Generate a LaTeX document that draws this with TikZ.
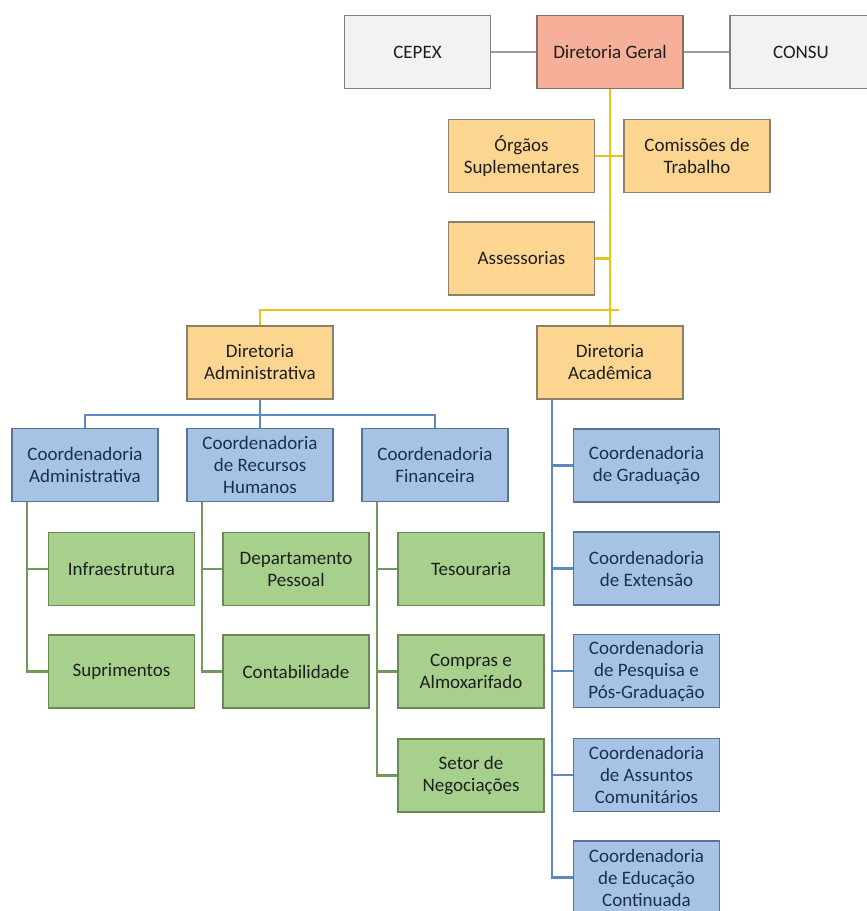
\documentclass[tikz,border=0pt]{standalone}
\usepackage{fontspec}
\setmainfont{Carlito}
\usetikzlibrary{positioning}
\definecolor{fillgray}{HTML}{F2F2F2}
\definecolor{edgegray}{HTML}{7F7F7F}
\definecolor{fillred}{HTML}{F6B09A}
\definecolor{edgered}{HTML}{8A7062}
\definecolor{fillorange}{HTML}{FCD591}
\definecolor{edgeorange}{HTML}{8D8068}
\definecolor{fillblue}{HTML}{A6C3E6}
\definecolor{edgeblue}{HTML}{5A7394}
\definecolor{fillgreen}{HTML}{A8D08D}
\definecolor{edgegreen}{HTML}{6A8A55}
\definecolor{linegray}{HTML}{9A9A9A}
\definecolor{lineyellow}{HTML}{E6C420}
\definecolor{lineblue}{HTML}{5B8BBE}
\definecolor{linegreen}{HTML}{72995A}
\definecolor{textdark}{HTML}{1E1E1E}
\definecolor{textblue}{HTML}{1C2F4F}

\begin{document}
\begin{tikzpicture}[x=1pt,y=-1pt]
 \tikzset{box/.style={minimum width=146pt,minimum height=73pt,inner sep=2pt,line width=1.4pt,align=center,text=textdark,font=\fontsize{19}{22}\selectfont},
  graybox/.style={box,draw=edgegray,fill=fillgray},
  redbox/.style={box,draw=edgered,fill=fillred},
  orangebox/.style={box,draw=edgeorange,fill=fillorange},
  bluebox/.style={box,draw=edgeblue,fill=fillblue,text=textblue},
  greenbox/.style={box,draw=edgegreen,fill=fillgreen},
  grayline/.style={draw=linegray,line width=2.2pt},
  yellowline/.style={draw=lineyellow,line width=2.8pt},
  blueline/.style={draw=lineblue,line width=2.6pt},
  greenline/.style={draw=linegreen,line width=2.4pt}}
 \useasboundingbox[fill=white] (0,0) rectangle (867,911);

 \node[graybox] (CEPEX) at (417.5,52) {CEPEX};
 \node[redbox] (DG) at (610,52) {Diretoria Geral};
 \node[graybox,minimum width=142pt] (CONSU) at (801,52) {CONSU};

 \node[orangebox] (OS) at (521.5,156) {Órgãos\\Suplementares};
 \node[orangebox] (CT) at (697,156) {Comissões de\\Trabalho};
 \node[orangebox] (AS) at (521.5,258.5) {Assessorias};

 \node[orangebox] (DAd) at (260,362.5) {Diretoria\\Administrativa};
 \node[orangebox] (DAc) at (610,362.5) {Diretoria\\Acadêmica};

 \node[bluebox] (CA) at (85,465) {Coordenadoria\\Administrativa};
 \node[bluebox] (CR) at (260,465) {Coordenadoria\\de Recursos\\Humanos};
 \node[bluebox] (CF) at (435,465) {Coordenadoria\\Financeira};

 \node[greenbox] (IN) at (121.5,569) {Infraestrutura};
 \node[greenbox] (SU) at (121.5,671.5) {Suprimentos};
 \node[greenbox] (DP) at (296,569) {Departamento\\Pessoal};
 \node[greenbox] (CO) at (296,671.5) {Contabilidade};
 \node[greenbox] (TE) at (471,569) {Tesouraria};
 \node[greenbox] (CM) at (471,671.5) {Compras e\\Almoxarifado};
 \node[greenbox] (SN) at (471,775.5) {Setor de\\Negociações};

 \node[bluebox] (GR) at (646.5,465.5) {Coordenadoria\\de Graduação};
 \node[bluebox] (EX) at (646.5,568.5) {Coordenadoria\\de Extensão};
 \node[bluebox] (PQ) at (646.5,671) {Coordenadoria\\de Pesquisa e\\Pós-Graduação};
 \node[bluebox] (AC) at (646.5,775) {Coordenadoria\\de Assuntos\\Comunitários};
 \node[bluebox] (ED) at (646.5,877.5) {Coordenadoria\\de Educação\\Continuada};

 \coordinate (yj) at (619,310);
 \coordinate (bj) at (260,415);
 \coordinate (ga) at (27,502);
 \coordinate (gr) at (202,502);
 \coordinate (gf) at (377,502);
 \coordinate (ba) at (552,399);

 \draw[grayline] (CEPEX) -- (DG);
 \draw[grayline] (DG) -- (CONSU);

 \draw[yellowline] (DG) -- (DAc);
 \draw[yellowline] (OS) -- (CT);
 \draw[yellowline] (AS.east) -- (AS.east -| DG.south);
 \draw[yellowline] (DAd.north) |- (yj);

 \draw[blueline] (DAd) -- (CR);
 \draw[blueline] (CA.north) |- (bj) -| (CF.north);
 \draw[blueline] (ba) |- (GR.west);
 \draw[blueline] (ba) |- (EX.west);
 \draw[blueline] (ba) |- (PQ.west);
 \draw[blueline] (ba) |- (AC.west);
 \draw[blueline] (ba) |- (ED.west);

 \draw[greenline] (ga) |- (IN.west);
 \draw[greenline] (ga) |- (SU.west);
 \draw[greenline] (gr) |- (DP.west);
 \draw[greenline] (gr) |- (CO.west);
 \draw[greenline] (gf) |- (TE.west);
 \draw[greenline] (gf) |- (CM.west);
 \draw[greenline] (gf) |- (SN.west);
\end{tikzpicture}
\end{document}
